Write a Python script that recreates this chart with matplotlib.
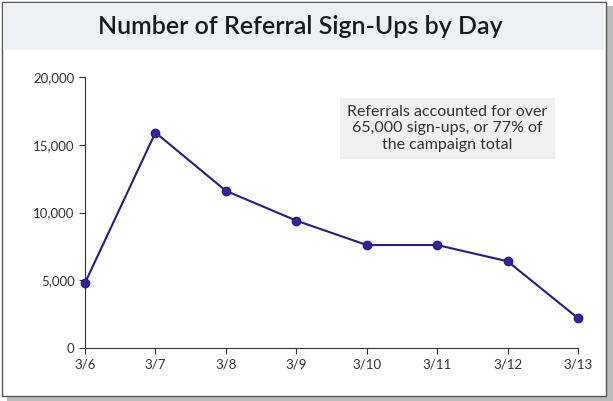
import matplotlib
matplotlib.use("Agg")
import matplotlib.pyplot as plt
from matplotlib.patches import Rectangle

days = ["3/6", "3/7", "3/8", "3/9", "3/10", "3/11", "3/12", "3/13"]
signups = [4800, 15900, 11600, 9400, 7600, 7600, 6400, 2200]
yticks = [0, 5000, 10000, 15000, 20000]
title = "Number of Referral Sign-Ups by Day"
note = "Referrals accounted for over\n65,000 sign-ups, or 77% of\nthe campaign total"

fig = plt.figure(figsize=(6.13, 4.01), dpi=100)
fig.patch.set_facecolor("white")
fig.patches.append(Rectangle((0.012, 0.0), 0.988, 0.985, transform=fig.transFigure, facecolor="#bbbbbb", edgecolor="none", zorder=-3))
fig.patches.append(Rectangle((0.003, 0.012), 0.985, 0.983, transform=fig.transFigure, facecolor="white", edgecolor="#555555", lw=1, zorder=-2))
fig.patches.append(Rectangle((0.005, 0.875), 0.981, 0.117, transform=fig.transFigure, facecolor="#eef0f3", edgecolor="none", zorder=-1))
fig.text(0.49, 0.935, title, ha="center", va="center", fontsize=18, family="Lato", weight="semibold", color="#1a1a1a")

ax = fig.add_axes([85/613, 1-348/401, (578-85)/613, (348-77)/401])
ax.set_facecolor("none")
x = list(range(len(days)))
ax.plot(x, signups, color="#2a1a8c", lw=1.5, marker="o", ms=6, mfc="#3a1f9e", mec="#2a1a8c", clip_on=False, zorder=3)
ax.set_xlim(0, len(days)-1)
ax.set_ylim(0, 20000)
ax.set_xticks(x, days)
ax.set_yticks(yticks, [f"{v:,}" for v in yticks])
for s in ["top", "right"]:
    ax.spines[s].set_visible(False)
for s in ["left", "bottom"]:
    ax.spines[s].set_color("#333333")
ax.tick_params(labelsize=9.5, colors="#333333", length=4)
for t in ax.get_xticklabels() + ax.get_yticklabels():
    t.set_family("Lato")
ax.text(0.735, 0.81, note, transform=ax.transAxes, ha="center", va="center", fontsize=11.5, family="Lato", color="#333333", linespacing=1.25,
        bbox=dict(boxstyle="square,pad=0.45", facecolor="#f0f0f0", edgecolor="none"))
fig.savefig("out.png", dpi=100)
